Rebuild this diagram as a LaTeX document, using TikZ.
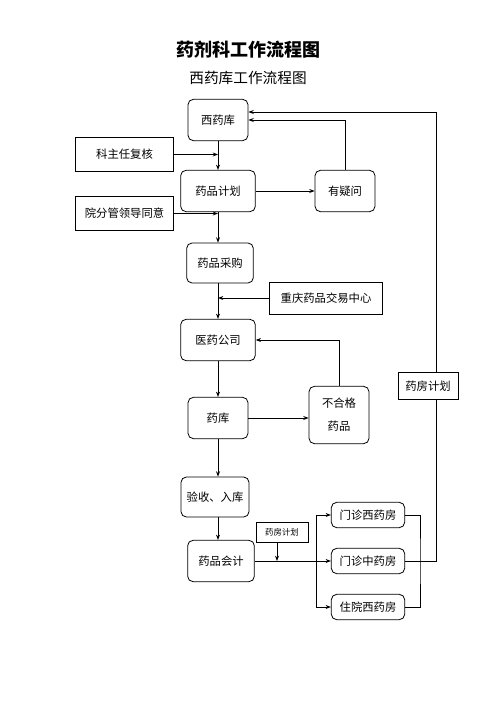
\documentclass[tikz,border=0pt]{standalone}
\usepackage{fontspec}
\setmainfont{Noto Sans CJK SC}
\usepackage{tikz}
\usetikzlibrary{shapes,arrows.meta,positioning,calc}

\begin{document}
\begin{tikzpicture}[x=0.75pt, y=-0.75pt, >={Stealth[length=4pt,width=3pt]}, line width=0.6pt,
    block/.style={rectangle, draw, rounded corners=4pt, text centered, font=\fontsize{8.5pt}{10pt}\selectfont},
    note/.style={rectangle, draw, fill=white, text centered, font=\fontsize{8.5pt}{10pt}\selectfont}]

    \useasboundingbox (0,0) rectangle (496,702);

    % Titles
    \node[font=\bfseries\fontsize{13.5pt}{15pt}\selectfont] (title) at (248,50) {药剂科工作流程图};
    \node[font=\fontsize{11pt}{13pt}\selectfont] (subtitle) at (248,78) {西药库工作流程图};

    % Main column
    \node[block, minimum width=45pt, minimum height=31pt] (xiyao) at (218,120) {西药库};
    \node[block, minimum width=56pt, minimum height=31pt] (plan) at (218,191) {药品计划};
    \node[block, minimum width=50pt, minimum height=30pt] (buy) at (220,263) {药品采购};
    \node[block, minimum width=56pt, minimum height=31pt] (company) at (218,340) {医药公司};
    \node[block, minimum width=45pt, minimum height=31pt] (store) at (218,418) {药库};
    \node[block, minimum width=51pt, minimum height=30pt] (check) at (215,497) {验收、入库};
    \node[block, minimum width=50pt, minimum height=31pt] (account) at (221,561) {药品会计};

    % Side nodes
    \node[note, minimum width=73pt, minimum height=25pt] (director) at (124.5,154.5) {科主任复核};
    \node[note, minimum width=73pt, minimum height=25pt] (leader) at (124.5,213.5) {院分管领导同意};
    \node[block, minimum width=45pt, minimum height=31pt] (doubt) at (345,191) {有疑问};
    \node[note, minimum width=85pt, minimum height=24pt] (center) at (326,298) {重庆药品交易中心};
    \node[block, minimum width=45pt, minimum height=43pt, align=center] (bad) at (339,415) {不合格\\[7pt]药品};
    \node[note, minimum width=39pt, minimum height=15pt, font=\fontsize{6.3pt}{7pt}\selectfont] (pharmplan) at (282,532) {药房计划};

    % Pharmacies
    \node[block, minimum width=55pt, minimum height=19pt] (mzxy) at (368,515) {门诊西药房};
    \node[block, minimum width=55pt, minimum height=19pt] (mzzy) at (368,561) {门诊中药房};
    \node[block, minimum width=55pt, minimum height=19pt] (zyxy) at (368,607) {住院西药房};

    \coordinate (branch) at (316,561);
    \coordinate (collect) at (420,561);
    \coordinate (outer) at (436,561);
    \coordinate (drop) at (277,561);

    % Arrows
    \draw[->] (xiyao) -- (plan);
    \draw[->] (plan.south) -- (plan.south |- buy.north);
    \draw[->] (buy.south -| xiyao.south) -- (company.north);
    \draw[->] (company) -- (store);
    \draw[->] (store.south) -- (store.south |- check.north);
    \draw[->] (check.south -| xiyao.south) -- (account.north -| xiyao.south);
    \draw[->] (director.east) -- (director.east -| xiyao.south);
    \draw[->] (leader.east) -- (leader.east -| xiyao.south);
    \draw[->] (plan) -- (doubt);
    \draw[->] (doubt.north) |- (xiyao.east);
    \draw[->] (center.west) -- (center.west -| xiyao.south);
    \draw[->] (store.east) -- (store.east -| bad.west);
    \draw[->] (bad.north) |- (company.east);
    \draw (account.east) -- (branch);
    \draw[->] (pharmplan.south -| drop) -- (drop);
    \draw[->] (branch) -- (mzzy.west);
    \draw[->] (branch) |- (mzxy.west);
    \draw[->] (branch) |- (zyxy.west);
    \draw (mzxy.east) -| (collect) |- (zyxy.east);
    \draw[->] (mzzy.east) -- (outer) |- ([yshift=6pt]xiyao.east);

    % Pharmacy plan on the return line
    \node[note, minimum width=45pt, minimum height=20pt] (returnplan) at (428,386) {药房计划};

\end{tikzpicture}
\end{document}
